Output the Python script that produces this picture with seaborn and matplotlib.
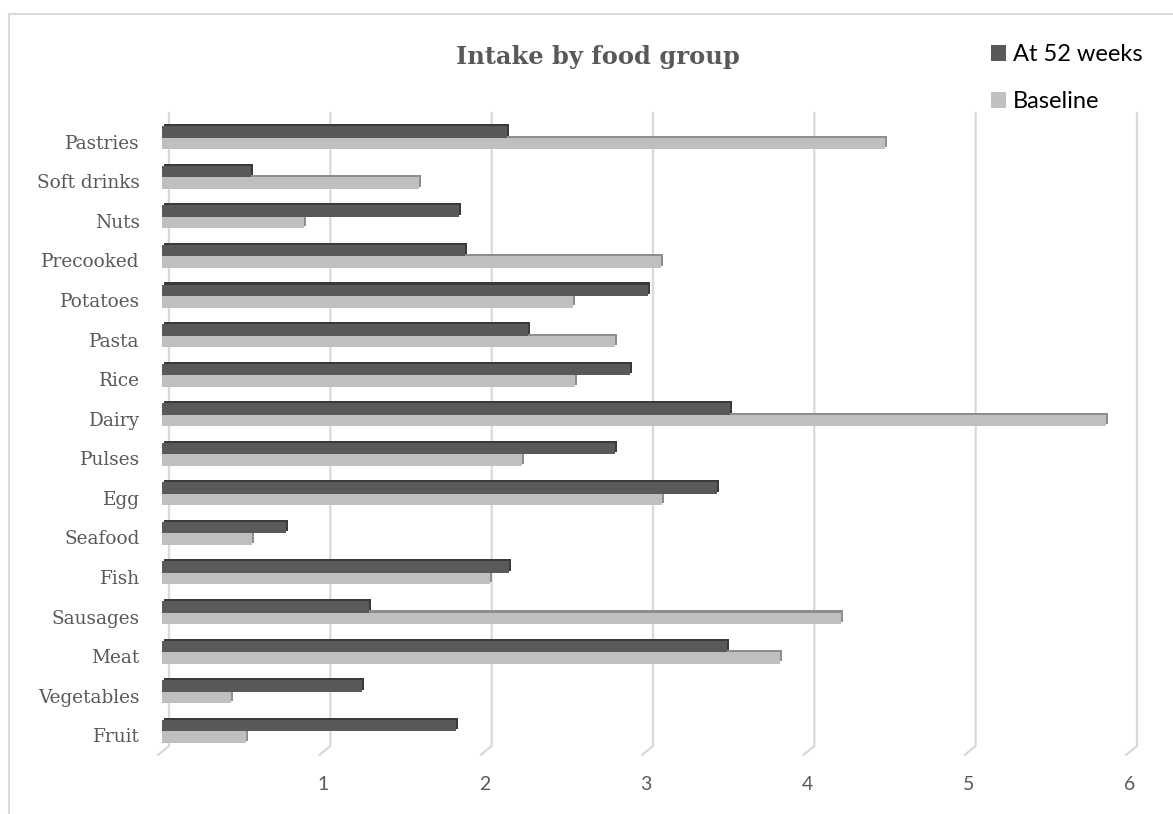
import numpy as np
import pandas as pd
import matplotlib
matplotlib.use("Agg")
import matplotlib.pyplot as plt
import matplotlib.patheffects as pe
from matplotlib.transforms import ScaledTranslation
from matplotlib.patches import Rectangle
from matplotlib.lines import Line2D
import seaborn as sns

# Mean intake per food group
foods = ["Pastries", "Soft drinks", "Nuts", "Precooked", "Potatoes", "Pasta",
         "Rice", "Dairy", "Pulses", "Egg", "Seafood", "Fish", "Sausages",
         "Meat", "Vegetables", "Fruit"]
week52 = [2.14, 0.55, 1.84, 1.88, 3.01, 2.27, 2.90, 3.52, 2.81, 3.44, 0.77,
          2.15, 1.28, 3.50, 1.24, 1.82]
baseline = [4.48, 1.59, 0.88, 3.09, 2.55, 2.81, 2.56, 5.85, 2.23, 3.10, 0.56,
            2.03, 4.21, 3.83, 0.43, 0.52]
series = ["At 52 weeks", "Baseline"]
xticks = [1, 2, 3, 4, 5, 6]
title = "Intake by food group"

DARK, LIGHT = "#595959", "#bfbfbf"
DARK_RIM, LIGHT_RIM = "#3a3a3a", "#8e8e8e"
TEXT = "#595959"
GRID = "#d9d9d9"

df = pd.DataFrame({
    "food": foods * 2,
    "intake": week52 + baseline,
    "period": [series[0]] * len(foods) + [series[1]] * len(foods),
})

sns.set_theme(style="white")

W, H = 1173, 814
fig = plt.figure(figsize=(W / 100, H / 100), dpi=100)
ax_l, ax_b, ax_w, ax_h = 162, 63, 968, 633
ax = fig.add_axes([ax_l / W, ax_b / H, ax_w / W, ax_h / H])

sns.barplot(data=df, y="food", x="intake", hue="period", order=foods,
            hue_order=series, palette=[DARK, LIGHT], orient="h",
            width=0.58, saturation=1, linewidth=0, ax=ax)

ax.set_xlim(0, 6)
ax.set_ylim(len(foods) - 0.5, -0.5)
for s in ax.spines.values():
    s.set_visible(False)
ax.set_xlabel("")
ax.set_ylabel("")

# bevelled look: darker rim on top and right side of every bar
for cont, rim, z in zip(ax.containers, [DARK_RIM, LIGHT_RIM], [4, 3]):
    for p in cont.patches:
        p.set_zorder(z)
        p.set_path_effects([
            pe.SimplePatchShadow(offset=(1.5, 1.5), shadow_rgbFace=rim, alpha=1),
            pe.Normal(),
        ])

# back-wall gridlines with a short slanted floor segment
kx = 6 / ax_w
ky = len(foods) / ax_h
y_top, y_bot = -0.5, len(foods) - 0.5
for v in [0] + xticks:
    xb = v + 7 * kx
    ax.add_line(Line2D([xb, xb, v - 4 * kx],
                       [y_top - 5 * ky, y_bot - 5 * ky, y_bot + 4 * ky],
                       color=GRID, lw=1.6, zorder=1, clip_on=False))

ax.set_xticks(xticks)
ax.set_xticklabels([str(t) for t in xticks])
ax.tick_params(axis="x", length=0, pad=18, labelsize=14, labelcolor=TEXT)
ax.tick_params(axis="y", length=0, pad=16, labelsize=13.3, labelcolor=TEXT)
for lab in ax.get_xticklabels():
    lab.set_fontfamily("Lato")
shift = ScaledTranslation(0, -4 / 100, fig.dpi_scale_trans)
for lab in ax.get_yticklabels():
    lab.set_fontfamily("DejaVu Serif")
    lab.set_transform(lab.get_transform() + shift)

fig.text(598 / W, 1 - 57 / H, title, ha="center", va="center",
         fontsize=17.4, fontweight="bold", color=TEXT, family="DejaVu Serif")

handles, labels = ax.get_legend_handles_labels()
ax.get_legend().remove()
fig.legend(handles, labels, loc="upper left",
           bbox_to_anchor=(991 / W, 1 - 44 / H), frameon=False,
           prop={"family": "Lato", "size": 17}, labelcolor="#000000",
           handlelength=0.64, handleheight=0.64, handletextpad=0.3,
           labelspacing=1.12, borderpad=0, borderaxespad=0)

# chart frame
fig.add_artist(Rectangle((9 / W, -0.1), 1.2, (H - 14) / H + 0.1,
                         transform=fig.transFigure, fill=False,
                         edgecolor=GRID, lw=1.5))

fig.savefig("out.png", dpi=100)
